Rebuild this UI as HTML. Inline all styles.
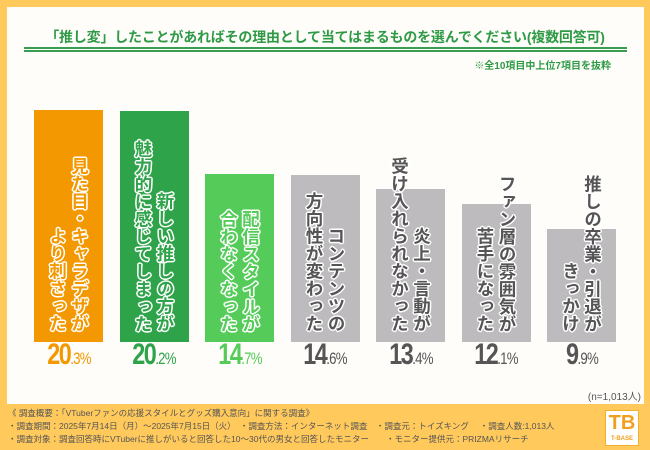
<!DOCTYPE html>
<html><head><meta charset="utf-8">
<style>
html,body{margin:0;padding:0}
body{width:650px;height:450px;position:relative;background:#FFC95C;font-family:"Liberation Sans","Noto Sans CJK JP",sans-serif;overflow:hidden}
#panel{position:absolute;left:7px;top:7px;width:637px;height:397px;background:#fffdfa}
.title{position:absolute;left:0;width:650px;top:27px;text-align:center;font-size:14px;font-weight:bold;color:#2e9a46;white-space:nowrap;letter-spacing:-0.2px}
.bar{position:absolute}
.lbl{position:absolute;writing-mode:vertical-rl;font-size:17.5px;font-weight:bold;line-height:22px;text-align:end;white-space:pre;
 text-shadow:1.5px 0 #fff,-1.5px 0 #fff,0 1.5px #fff,0 -1.5px #fff,1px 1px #fff,-1px -1px #fff,1px -1px #fff,-1px 1px #fff}
.val{position:absolute;width:86px;text-align:center;font-size:30px;font-weight:bold;letter-spacing:-2px;transform:scaleX(0.78)}
.val small{font-size:17px;letter-spacing:-1px;font-weight:normal}
.foot{position:absolute;left:8px;font-size:8.5px;color:#555;white-space:pre}
</style></head><body>
<div id="panel"></div>
<div class="title">「推し変」したことがあればその理由として当てはまるものを選んでください(複数回答可)</div>
<div style="position:absolute;left:24px;top:47px;width:603px;height:1.5px;background:#3a9e52"></div>
<div style="position:absolute;left:24px;top:50px;width:603px;height:1.5px;background:#3a9e52"></div>
<div style="position:absolute;right:39px;top:57px;font-size:10px;font-weight:bold;color:#2e9a46">※全10項目中上位7項目を抜粋</div>
<div id="chart"></div>
<div style="position:absolute;right:9px;top:388px;font-size:10px;color:#555">(n=1,013人)</div>
<div class="foot" style="top:407px">《 調査概要：「VTuberファンの応援スタイルとグッズ購入意向」に関する調査》</div>
<div class="foot" style="top:420px">・調査期間：2025年7月14日（月）～2025年7月15日（火）　・調査方法：インターネット調査　・調査元：トイズキング　 ・調査人数:1,013人</div>
<div class="foot" style="top:433px">・調査対象：調査回答時にVTuberに推しがいると回答した10～30代の男女と回答したモニター　　・モニター提供元：PRIZMAリサーチ</div>
<div style="position:absolute;left:605px;top:410px;width:32px;height:34px;background:#fff;border:1px solid #f0b030;color:#f0a020;font-weight:bold;text-align:center;font-size:20px;line-height:24px">TB<div style="font-size:6px;line-height:8px">T-BASE</div></div>
<script>
const categories=["見た目・キャラデザが\nより刺さった","新しい推しの方が\n魅力的に感じてしまった","配信スタイルが\n合わなくなった","コンテンツの\n方向性が変わった","炎上・言動が\n受け入れられなかった","ファン層の雰囲気が\n苦手になった","推しの卒業・引退が\nきっかけ"];
const values=[20.3,20.2,14.7,14.6,13.4,12.1,9.9];
const barColors=["#F39800","#2FA34A","#55CC5A","#BDBBBD","#BDBBBD","#BDBBBD","#BDBBBD"];
const textColors=["#F39800","#2FA34A","#55CC5A","#555","#555","#555","#555"];
const baseY=342, scale=11.43, x0=34, step=85.5, bw=69;
const yOf=v=>baseY-v*scale;
const chart=document.getElementById('chart');
values.forEach((v,i)=>{
  const x=x0+i*step;
  const b=document.createElement('div');
  b.className='bar';
  
  
  b.style.cssText=`left:${x}px;top:${yOf(v)}px;width:${bw}px;height:${v*scale}px;background:${barColors[i]}`;
  chart.appendChild(b);
  const l=document.createElement('div');
  l.className='lbl';
  
  
  l.textContent=categories[i];
  l.style.cssText+=`left:${x+bw/2-22}px;top:100px;height:232px;width:44px;color:${textColors[i]}`;
  chart.appendChild(l);
  const t=document.createElement('div');
  t.className='val';
  
  
  const [a,c]=v.toFixed(1).split('.');
  t.innerHTML=`${a}<small>.${c}%</small>`;
  t.style.cssText+=`left:${x+bw/2-43}px;top:338px;color:${i<3?barColors[i]:'#555'}`;
  chart.appendChild(t);
});
</script>
</body></html>
